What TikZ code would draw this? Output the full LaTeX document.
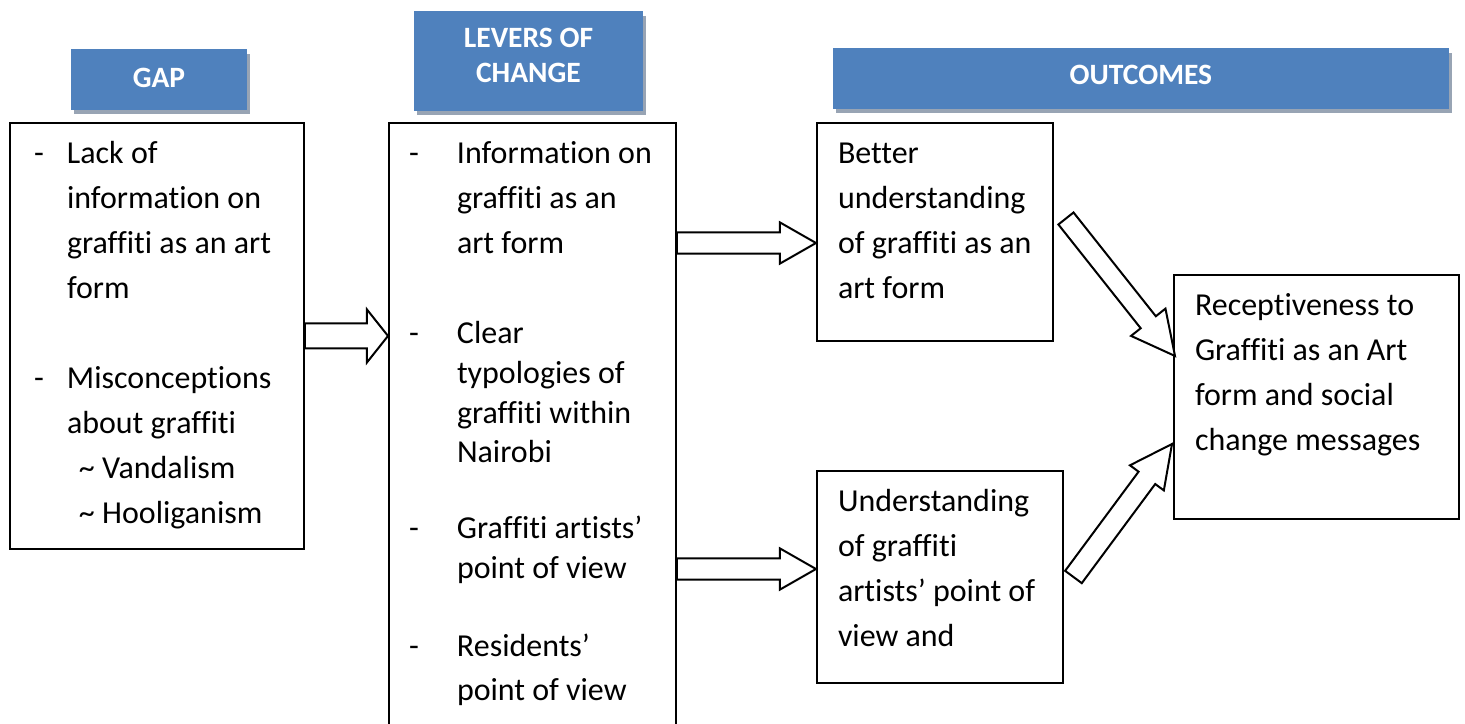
\documentclass[tikz,border=0pt]{standalone}
\usepackage{fontspec}
\setmainfont{Carlito}[Ligatures=NoCommon]
\usepackage{tikz}
\usetikzlibrary{calc,shadows}
\definecolor{headblue}{RGB}{79,129,189}
\definecolor{shadowgray}{RGB}{152,164,180}

% hanging dash in front of a list item
\newcommand{\dash}[1]{\llap{\makebox[#1][l]{-}}}
% open block arrow: tail, tip, half shaft, half head, head length
\newcommand{\blockarrow}[5]{%
  \coordinate (n) at ($(#2)!#5!(#1)$);
  \draw[fill=white] ($(#1)!#3!90:(#2)$) -- ($(n)!#3!90:(#2)$) -- ($(n)!#4!90:(#2)$) -- (#2)
    -- ($(n)!#4!-90:(#2)$) -- ($(n)!#3!-90:(#2)$) -- ($(#1)!#3!-90:(#2)$) -- cycle;}

\begin{document}
\begin{tikzpicture}[x=0.02cm, y=-0.02cm, line width=0.4mm,
    head/.style={fill=headblue, text=white, anchor=north west, align=center, inner sep=0pt,
      font=\bfseries\fontsize{16.8}{19.9}\selectfont,
      drop shadow={shadow xshift=0.06cm, shadow yshift=-0.09cm, fill=shadowgray, opacity=1}},
    box/.style={draw, anchor=north west, inner sep=0pt},
    txt/.style={anchor=north west, inner sep=0pt, align=left, font=\fontsize{18.2}{25.6}\selectfont}]
  \useasboundingbox (0,0) rectangle (1465,724);

  % headings
  \node[head, minimum width=3.52cm, minimum height=1.22cm] (gaphd) at (70,48) {\raisebox{2.3pt}{GAP}};
  \node[head, minimum width=4.58cm, minimum height=2cm] (levhd) at (413,10)
    {\begin{tabular}{@{}c@{}}LEVERS OF\\CHANGE\\[3.5pt]\end{tabular}};
  \node[head, minimum width=12.32cm, minimum height=1.22cm] (outhd) at (832,47) {\raisebox{4.6pt}{OUTCOMES}};

  % boxes
  \node[box, minimum width=5.88cm, minimum height=8.52cm] (gap) at (9,122) {};
  \node[box, minimum width=5.74cm, minimum height=12.3cm] (lev) at (388,122) {};
  \node[box, minimum width=4.72cm, minimum height=4.36cm] (bet) at (816,122) {};
  \node[box, minimum width=4.92cm, minimum height=4.24cm] (und) at (816,470) {};
  \node[box, minimum width=5.7cm, minimum height=4.88cm] (rec) at (1173,274) {};

  % texts
  \node[txt] (gap1) at (66,131.5) {\strut\dash{0.66cm}Lack of\\information on\\graffiti as an art\\form};
  \node[txt] (gap2) at (66,356.5) {\strut\dash{0.66cm}Misconceptions\\about graffiti\\
    \hspace*{0.24cm}\textasciitilde{} Vandalism\\\hspace*{0.24cm}\textasciitilde{} Hooliganism};
  \node[txt] (lev1) at (456,131.5) {\strut\dash{0.96cm}Information on\\graffiti as an\\art form};
  \node[txt, font=\fontsize{18.2}{22.5}\selectfont] (lev2) at (456,315.3)
    {\strut\dash{0.96cm}Clear\\typologies of\\graffiti within\\Nairobi};
  \node[txt, font=\fontsize{18.2}{22.8}\selectfont] (lev3) at (456,509.5)
    {\strut\dash{0.96cm}Graffiti artists’\\point of view};
  \node[txt, font=\fontsize{18.2}{25}\selectfont] (lev4) at (456,625)
    {\strut\dash{0.96cm}Residents’\\point of view};
  \node[txt] (bet1) at (837,131.5) {\strut Better\\understanding\\of graffiti as an\\art form};
  \node[txt] (und1) at (837,479.5) {\strut Understanding\\of graffiti\\artists’ point of\\view and};
  \node[txt] (rec1) at (1194,283.5) {\strut Receptiveness to\\Graffiti as an Art\\form and social\\change messages};

  % block arrows
  \coordinate (a1e) at (lev.west |- gap.east);
  \coordinate (a2s) at ($(lev.north east)+(0,121)$);
  \coordinate (a2e) at (bet.west |- a2s);
  \coordinate (a3s) at ($(lev.north east)+(0,447)$);
  \coordinate (a3e) at (und.west |- a3s);
  \coordinate (a4s) at ($(bet.east)+(12,-13.5)$);
  \coordinate (a4e) at ($(rec.west)+(2,-41)$);
  \coordinate (a5s) at ($(und.east)+(9.5,0)$);
  \coordinate (a5e) at ($(rec.west)+(-1,47)$);
  \blockarrow{gap.east}{a1e}{7.1pt}{15.1pt}{12pt}
  \blockarrow{a2s}{a2e}{6pt}{11.7pt}{20.5pt}
  \blockarrow{a3s}{a3e}{6pt}{11.7pt}{20.5pt}
  \blockarrow{a4s}{a4e}{5.5pt}{12.5pt}{24.5pt}
  \blockarrow{a5s}{a5e}{5.9pt}{12pt}{24pt}
\end{tikzpicture}
\end{document}
